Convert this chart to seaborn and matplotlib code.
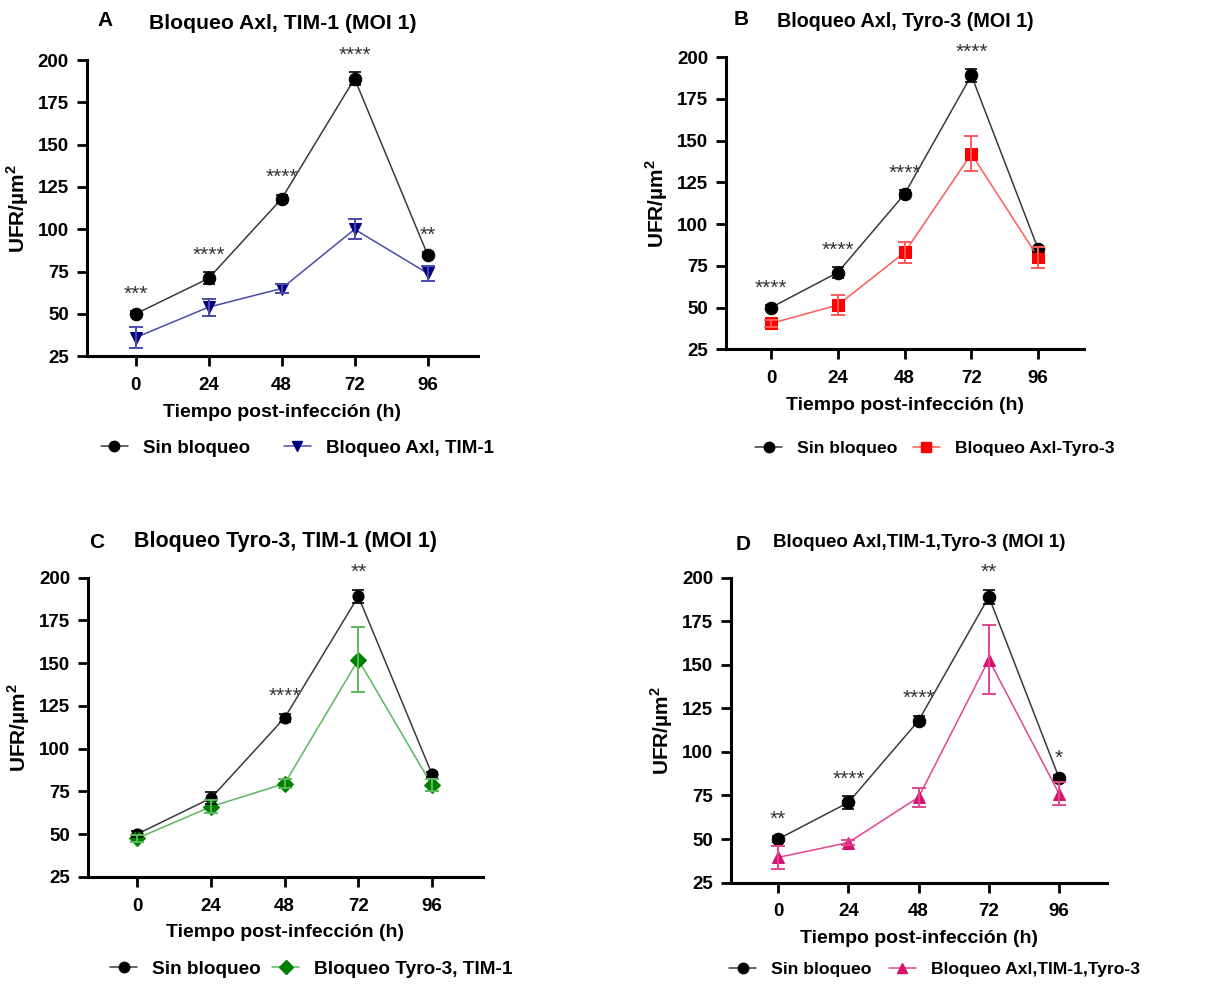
import numpy as np
import pandas as pd
import matplotlib
matplotlib.use("Agg")
import matplotlib.pyplot as plt
import seaborn as sns

sns.set_style("ticks")
plt.rcParams['font.family'] = ['Liberation Sans', 'DejaVu Sans']
plt.rcParams['text.color'] = 'black'
plt.rcParams['axes.labelcolor'] = 'black'
plt.rcParams['xtick.color'] = 'black'
plt.rcParams['ytick.color'] = 'black'
plt.rcParams['axes.edgecolor'] = 'black'
plt.rcParams['mathtext.fontset'] = 'custom'
plt.rcParams['mathtext.rm'] = 'Liberation Sans'
plt.rcParams['mathtext.bf'] = 'Liberation Sans:bold'

# datos
tiempo = [0, 24, 48, 72, 96]
sin_bloqueo = [50, 71, 118, 189, 85]
sin_bloqueo_err = [1.5, 3.5, 2.5, 4, 1.5]

bloqueo_a = [36, 54, 65, 100, 74]
bloqueo_a_err = [6, 5, 2.5, 6, 4.5]
bloqueo_b = [40.5, 51.5, 83, 142, 80]
bloqueo_b_err = [2, 6, 6.5, 10.5, 6.5]
bloqueo_c = [47.5, 66, 79.5, 152, 78.5]
bloqueo_c_err = [2, 4, 2.5, 19, 3.5]
bloqueo_d = [39.5, 48, 74, 153, 76]
bloqueo_d_err = [6.5, 1.5, 5.5, 20, 6.5]

estrellas_a = ["***", "****", "****", "****", "**"]
estrellas_b = ["****", "****", "****", "****", ""]
estrellas_c = ["", "", "****", "**", ""]
estrellas_d = ["**", "****", "****", "**", "*"]

letras = ["A", "B", "C", "D"]
titulos = ["Bloqueo Axl, TIM-1 (MOI 1)", "Bloqueo Axl, Tyro-3 (MOI 1)",
           "Bloqueo Tyro-3, TIM-1 (MOI 1)", "Bloqueo Axl,TIM-1,Tyro-3 (MOI 1)"]
nombres = ["Bloqueo Axl, TIM-1", "Bloqueo Axl-Tyro-3",
           "Bloqueo Tyro-3, TIM-1", "Bloqueo Axl,TIM-1,Tyro-3"]

paneles = [
    (bloqueo_a, bloqueo_a_err, estrellas_a, "v", "#00007f", "#4b4bab"),
    (bloqueo_b, bloqueo_b_err, estrellas_b, "s", "#ff0000", "#ff5a5a"),
    (bloqueo_c, bloqueo_c_err, estrellas_c, "D", "#008000", "#5cb85c"),
    (bloqueo_d, bloqueo_d_err, estrellas_d, "^", "#d4146e", "#e4458f"),
]

# posiciones de los ejes (fraccion de figura)
pos = [[0.071, 0.638, 0.319, 0.301],
       [0.593, 0.645, 0.292, 0.297],
       [0.072, 0.109, 0.322, 0.304],
       [0.597, 0.103, 0.307, 0.310]]
leg_pos = [(0.538, -0.31), (0.582, -0.34), (0.566, -0.31), (0.54, -0.285)]
leg_tam = [13.5, 12.6, 13.7, 12.6]
leg_colsep_px = [34, 15, 11, 17]
letra_xy = [(0.086, 0.979), (0.605, 0.980), (0.079, 0.449), (0.607, 0.447)]
tam_titulo = [15.2, 14.2, 15.5, 13.5]

fig = plt.figure(figsize=(12.25, 9.84), dpi=100)

for i, (vals, errs, estrellas, marca, col, col_linea) in enumerate(paneles):
    ax = fig.add_axes(pos[i])
    df = pd.DataFrame({
        "t": tiempo * 2,
        "v": sin_bloqueo + vals,
        "grupo": ["Sin bloqueo"] * 5 + [nombres[i]] * 5,
    })
    sns.lineplot(data=df, x="t", y="v", hue="grupo", style="grupo",
                 palette=["#3a3a3a", col_linea], markers=["o", marca],
                 dashes=False, linewidth=1.1, markersize=9 if marca != "D" else 8,
                 ax=ax, legend=False)
    # color de marcadores
    lineas = ax.get_lines()
    lineas[0].set_markerfacecolor("black"); lineas[0].set_markeredgecolor("black")
    lineas[1].set_markerfacecolor(col); lineas[1].set_markeredgecolor(col)

    ax.errorbar(tiempo, sin_bloqueo, yerr=sin_bloqueo_err, fmt="none",
                ecolor="black", elinewidth=1.2, capsize=4, capthick=1.2)
    ax.errorbar(tiempo, vals, yerr=errs, fmt="none",
                ecolor=col_linea, elinewidth=1.4, capsize=5, capthick=1.4)

    for t, m, e, s in zip(tiempo, sin_bloqueo, sin_bloqueo_err, estrellas):
        if s:
            ax.text(t, m + e + 10, s, ha="center", va="center",
                    fontsize=15, color="#333333")

    ax.set_xlim(-16, 112.5)
    ax.set_ylim(25, 200)
    ax.set_xticks(tiempo)
    ax.set_yticks([25, 50, 75, 100, 125, 150, 175, 200])
    ax.tick_params(axis="both", length=7, width=2, labelsize=13.5, pad=6)
    ax.tick_params(axis="x", pad=8)
    for lab in ax.get_xticklabels() + ax.get_yticklabels():
        lab.set_fontweight("bold")
    for sp in ["left", "bottom"]:
        ax.spines[sp].set_linewidth(2.2)
    sns.despine(ax=ax)

    ax.set_xlabel("Tiempo post-infección (h)", fontsize=14,
                  fontweight="bold", labelpad=7)
    ax.set_ylabel(r"UFR/µm$^{\mathbf{2}}$", fontsize=15, fontweight="bold", labelpad=5)
    ax.set_title(titulos[i], fontsize=tam_titulo[i], fontweight="bold", pad=22)
    fig.text(letra_xy[i][0], letra_xy[i][1], letras[i], fontsize=15,
             fontweight="bold", ha="center", va="center")

    h = [plt.Line2D([], [], color="#3a3a3a", lw=1.1, marker="o",
                    markersize=7.5, markerfacecolor="black", markeredgecolor="black"),
         plt.Line2D([], [], color=col_linea, lw=1.1, marker=marca,
                    markersize=7.5, markerfacecolor=col, markeredgecolor=col)]
    em = leg_tam[i] * 100 / 72
    ax.legend(h, ["Sin bloqueo", nombres[i]], loc="center",
              bbox_to_anchor=leg_pos[i], ncol=2, frameon=False,
              prop={"size": leg_tam[i], "weight": "bold"},
              handlelength=27 / em, columnspacing=leg_colsep_px[i] / em,
              handletextpad=15 / em)

fig.savefig("out.png", dpi=100)
